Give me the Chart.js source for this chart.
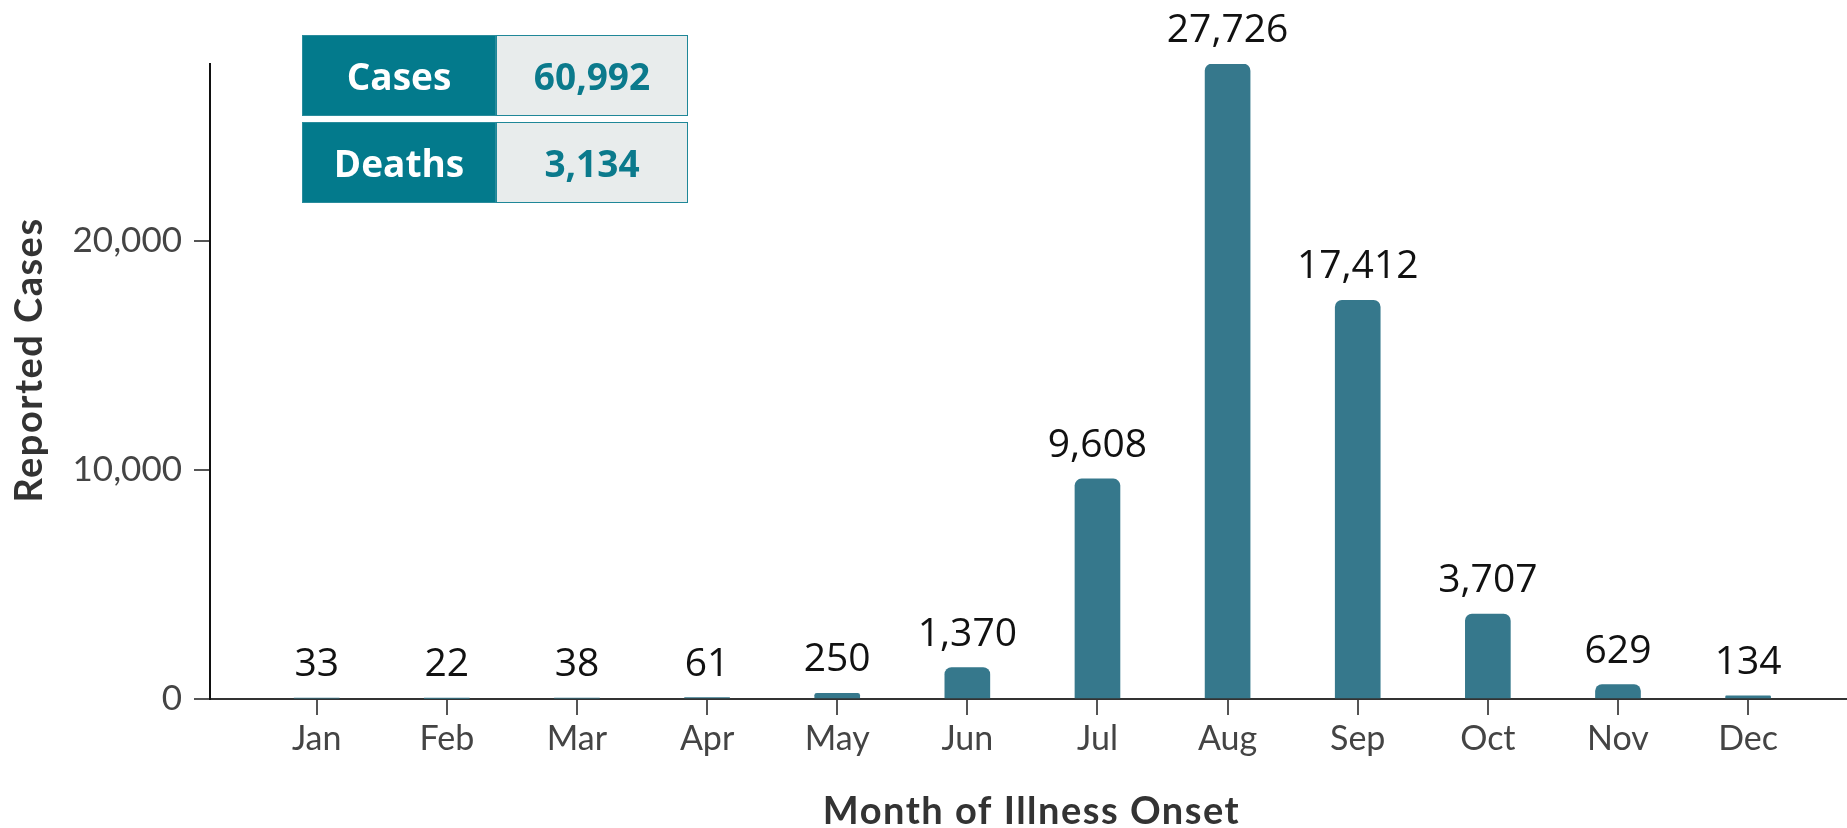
<!DOCTYPE html>
<html>
<head>
<meta charset="utf-8">
<script src="https://cdn.jsdelivr.net/npm/chart.js@4.4.1/dist/chart.umd.min.js"></script>
<style>
  html, body { margin: 0; padding: 0; background: #ffffff; }
  #wrap { position: relative; width: 1847px; height: 828px; overflow: hidden; }
  #c { position: absolute; left: 0; top: 0; }
  .summary { position: absolute; left: 302px; top: 35px; width: 386px; font-family: "Open Sans", sans-serif; font-weight: 700; font-size: 37px; }
  .row { display: flex; height: 81px; margin-bottom: 6px; }
  .lab { width: 194px; background: #037a8c; color: #ffffff; display: flex; align-items: center; justify-content: center; box-sizing: border-box; border: 1px solid #2a8c9c; }
  .val { width: 192px; background: #e8ecec; color: #0b7a8c; display: flex; align-items: center; justify-content: center; box-sizing: border-box; border: 1.5px solid #1f8798; }
</style>
</head>
<body>
<div id="wrap">
  <canvas id="c" width="1847" height="828"></canvas>
  <div class="summary" id="summary"></div>
</div>
<script>
const months = ['Jan','Feb','Mar','Apr','May','Jun','Jul','Aug','Sep','Oct','Nov','Dec'];
const cases = [33, 22, 38, 61, 250, 1370, 9608, 27726, 17412, 3707, 629, 134];
const yTicks = [0, 10000, 20000];
const summaryLabels = ['Cases', 'Deaths'];
const summaryValues = ['60,992', '3,134'];
const xTitle = 'Month of Illness Onset';
const yTitle = 'Reported Cases';

// summary table (real text)
const sum = document.getElementById('summary');
summaryLabels.forEach((l, i) => {
  const r = document.createElement('div'); r.className = 'row';
  const a = document.createElement('div'); a.className = 'lab'; a.textContent = l;
  const b = document.createElement('div'); b.className = 'val'; b.textContent = summaryValues[i];
  r.appendChild(a); r.appendChild(b); sum.appendChild(r);
});

const fmt = v => Number(v).toLocaleString('en-US');

const labelPlugin = {
  id: 'labels',
  afterDatasetsDraw(chart) {
    const ctx = chart.ctx;
    const meta = chart.getDatasetMeta(0);
    ctx.save();
    ctx.fillStyle = '#111111';
    ctx.font = '39px "Open Sans"';
    ctx.textAlign = 'center';
    ctx.textBaseline = 'alphabetic';
    meta.data.forEach((el, i) => {
      ctx.fillText(fmt(cases[i]), el.x, el.y - 22);
    });
    ctx.restore();
  },
  afterDraw(chart) {
    const ctx = chart.ctx;
    const ca = chart.chartArea;
    ctx.save();
    ctx.fillStyle = '#333333';
    ctx.font = 'bold 38px Lato';
    try { ctx.letterSpacing = '1.5px'; } catch (e) {}
    ctx.textAlign = 'center';
    ctx.textBaseline = 'alphabetic';
    ctx.fillText(xTitle, (ca.left + ca.right) / 2 + 3, 824);
    ctx.translate(30, 360);
    ctx.rotate(-Math.PI / 2);
    ctx.textBaseline = 'middle';
    ctx.fillText(yTitle, 0, 0);
    ctx.restore();
  }
};

new Chart(document.getElementById('c'), {
  type: 'bar',
  data: {
    datasets: [{
      data: months.map((m, i) => ({ x: i, y: cases[i] })),
      backgroundColor: '#36788c',
      barThickness: 45,
      borderRadius: { topLeft: 7, topRight: 7, bottomLeft: 0, bottomRight: 0 },
      borderSkipped: 'bottom'
    }]
  },
  options: {
    responsive: false,
    animation: false,
    layout: { padding: { top: 64, left: 0, right: 0, bottom: 0 } },
    plugins: { legend: { display: false }, tooltip: { enabled: false } },
    scales: {
      x: {
        type: 'linear',
        offset: false,
        min: -0.82,
        max: 11.76,
        afterBuildTicks: s => { s.ticks = months.map((m, i) => ({ value: i })); },
        afterFit: s => { s.height = 129; },
        ticks: {
          callback: v => months[v],
          font: { family: 'Lato', size: 34 },
          color: '#444444',
          padding: 4,
          autoSkip: false,
          maxRotation: 0
        },
        grid: { display: true, offset: false, drawOnChartArea: false, drawTicks: true, tickLength: 16, color: '#555555', lineWidth: 2 },
        border: { display: true, color: '#333333', width: 2 }
      },
      y: {
        min: 0,
        max: 27726,
        afterBuildTicks: s => { s.ticks = yTicks.map(v => ({ value: v })); },
        afterFit: s => { s.width = 210; },
        ticks: {
          callback: v => fmt(v),
          font: { family: 'Lato', size: 35 },
          color: '#444444',
          padding: 12
        },
        grid: { display: true, drawOnChartArea: false, drawTicks: true, tickLength: 16, color: '#555555', lineWidth: 2 },
        border: { display: true, color: '#111111', width: 2 }
      }
    }
  },
  plugins: [labelPlugin]
});
</script>
</body>
</html>
